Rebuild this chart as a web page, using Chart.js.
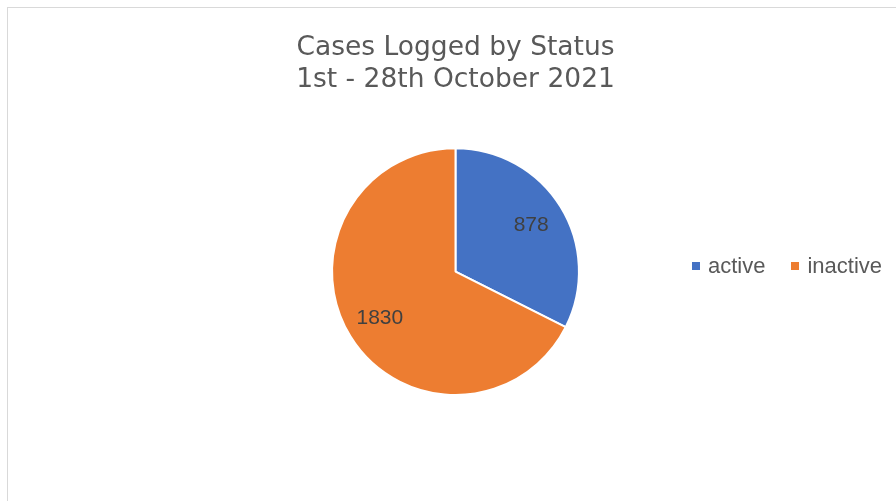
<!DOCTYPE html>
<html>
<head>
<meta charset="utf-8">
<script src="https://cdn.jsdelivr.net/npm/chart.js@4.4.0/dist/chart.umd.min.js"></script>
<style>
    html, body { margin: 0; padding: 0; background: #fff; }
    #wrap {
        position: absolute; left: 7px; top: 7px;
        width: 900px; height: 500px;
        border-left: 1px solid #d9d9d9; border-top: 1px solid #d9d9d9;
        box-sizing: border-box;
    }
    #chartBox { position: absolute; left: 0; top: 0; width: 888px; height: 493px; }
    #legend {
        position: absolute; left: 684px; top: 245px;
        font-family: "Liberation Sans", "Open Sans", sans-serif;
        font-size: 22px; color: #595959; white-space: nowrap;
    }
    #legend span.item { margin-right: 26px; }
    #legend i {
        display: inline-block; width: 8px; height: 8px;
        margin-right: 8px; vertical-align: 3px;
    }
</style>
</head>
<body>
<div id="wrap">
    <div id="chartBox"><canvas id="statusChart"></canvas></div>
    <div id="legend"></div>
</div>
<script>
// --- DATA ---
const titleLines = ['Cases Logged by Status', '1st - 28th October 2021'];
const statuses = ['active', 'inactive'];
const caseCounts = [878, 1830];
const sliceColors = ['#4472C4', '#ED7D31'];

// value labels drawn inside each slice
const sliceLabels = {
    id: 'sliceLabels',
    afterDatasetsDraw(chart) {
        const { ctx } = chart;
        const meta = chart.getDatasetMeta(0);
        ctx.save();
        ctx.font = '21px "Liberation Sans", "Open Sans", sans-serif';
        ctx.fillStyle = '#404040';
        ctx.textAlign = 'center';
        ctx.textBaseline = 'middle';
        meta.data.forEach((arc, i) => {
            const mid = (arc.startAngle + arc.endAngle) / 2;
            const r = arc.outerRadius * 0.72;
            ctx.fillText(chart.data.datasets[0].data[i], arc.x + Math.cos(mid) * r, arc.y + Math.sin(mid) * r);
        });
        ctx.restore();
    }
};

const statusChart = new Chart(document.getElementById('statusChart'), {
    type: 'pie',
    data: {
        labels: statuses,
        datasets: [{
            data: caseCounts,
            backgroundColor: sliceColors,
            borderColor: '#fff',
            borderWidth: 2
        }]
    },
    options: {
        responsive: true,
        maintainAspectRatio: false,
        animation: false,
        layout: { padding: { left: 227, right: 220, top: 0, bottom: 105 } },
        plugins: {
            legend: { display: false },
            tooltip: { enabled: false },
            title: {
                display: true,
                text: titleLines,
                color: '#595959',
                font: { family: '"DejaVu Sans", Verdana, sans-serif', size: 26.5, weight: 'normal', lineHeight: 1.21 },
                padding: { top: 24, bottom: 51 }
            }
        }
    },
    plugins: [sliceLabels]
});

// --- LEGEND ---
document.getElementById('legend').innerHTML = statuses.map((s, i) =>
    `<span class="item"><i style="background:${sliceColors[i]}"></i>${s}</span>`
).join('');
</script>
</body>
</html>
